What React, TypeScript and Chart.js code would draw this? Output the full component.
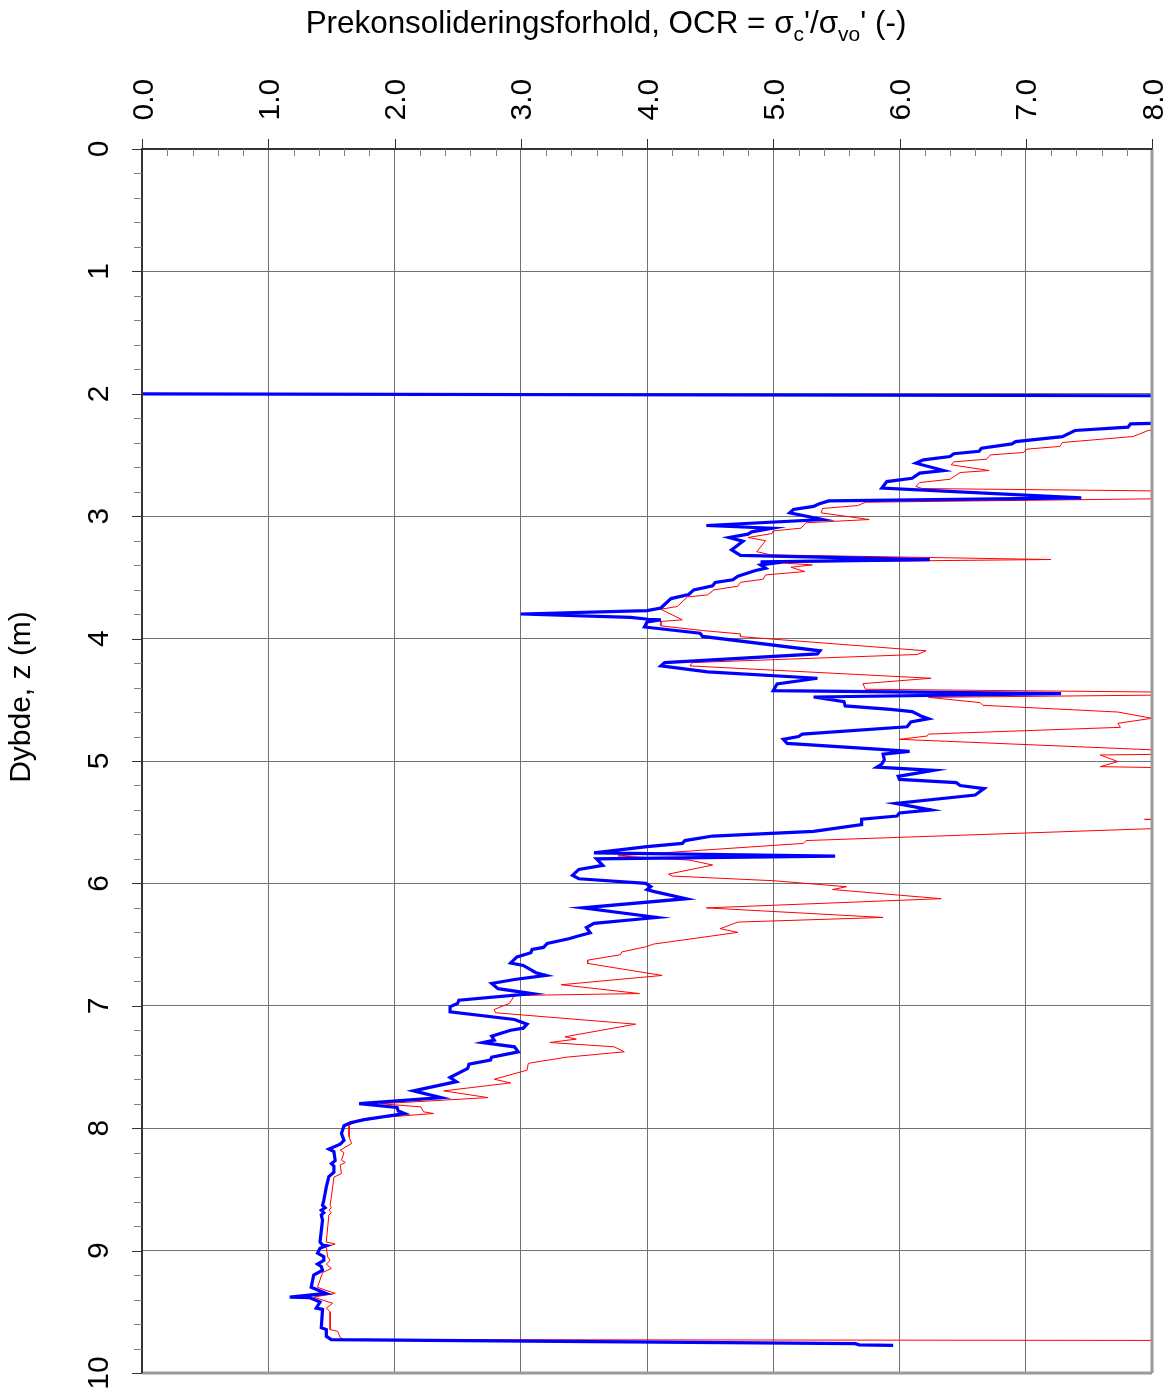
import { useEffect, useRef } from "react";
import { Chart, registerables } from "chart.js";

Chart.register(...registerables);

// Axis tick labels
const xTickLabels = ["0.0", "1.0", "2.0", "3.0", "4.0", "5.0", "6.0", "7.0", "8.0"];
const yTickLabels = ["0", "1", "2", "3", "4", "5", "6", "7", "8", "9", "10"];

const titleMain = "Prekonsolideringsforhold, OCR = ";
const yTitle = "Dybde, z (m)";

// [OCR (-), depth z (m)] — blue (thick) profile
const blueProfile: [number, number][] = [
  [0, 2.0], [20, 2.04], [20, 2.2], [8.0, 2.242], [7.83, 2.245], [7.81, 2.273], [7.39, 2.3], [7.29, 2.35],
  [6.92, 2.39], [6.89, 2.409], [6.65, 2.444], [6.63, 2.47], [6.43, 2.49], [6.4, 2.512], [6.19, 2.54],
  [6.13, 2.567], [6.35, 2.627], [6.16, 2.648], [6.1, 2.69], [5.9, 2.717], [5.86, 2.771], [7.44, 2.85],
  [5.44, 2.875], [5.36, 2.9], [5.32, 2.92], [5.16, 2.945], [5.13, 2.973], [5.39, 3.027], [4.47, 3.076],
  [4.99, 3.098], [4.83, 3.128], [4.8, 3.147], [4.65, 3.174], [4.76, 3.205], [4.67, 3.275], [4.74, 3.32],
  [6.24, 3.354], [4.9, 3.373], [4.99, 3.386], [4.9, 3.398], [4.94, 3.425], [4.86, 3.444], [4.72, 3.49],
  [4.68, 3.52], [4.54, 3.542], [4.52, 3.569], [4.37, 3.602], [4.33, 3.64], [4.19, 3.673], [4.11, 3.75],
  [4.0, 3.772], [3.0, 3.799], [3.87, 3.826], [4.01, 3.842], [4.11, 3.847], [4.0, 3.864], [3.98, 3.905],
  [4.42, 3.956], [4.44, 3.982], [5.37, 4.1], [5.35, 4.125], [4.14, 4.196], [4.11, 4.223], [4.48, 4.272],
  [5.35, 4.324], [5.03, 4.37], [5.0, 4.425], [7.28, 4.45], [5.32, 4.477], [5.56, 4.515], [5.57, 4.55],
  [5.93, 4.578], [6.1, 4.597], [6.17, 4.632], [6.23, 4.654], [6.09, 4.681], [6.06, 4.72], [5.23, 4.78],
  [5.2, 4.8], [5.08, 4.823], [5.11, 4.856], [5.85, 4.905], [6.08, 4.922], [5.87, 4.945], [5.88, 4.99],
  [5.86, 5.025], [5.82, 5.05], [6.27, 5.076], [5.99, 5.125], [6.0, 5.15], [6.45, 5.177], [6.48, 5.2],
  [6.67, 5.225], [6.6, 5.278], [5.97, 5.346], [6.25, 5.4], [6.0, 5.425], [5.98, 5.45], [5.7, 5.475],
  [5.7, 5.52], [5.32, 5.575], [4.52, 5.613], [4.3, 5.65], [4.28, 5.673], [4.0, 5.7], [3.58, 5.75],
  [5.49, 5.777], [3.6, 5.8], [3.65, 5.853], [3.46, 5.886], [3.41, 5.935], [3.46, 5.962], [3.99, 6.0],
  [4.03, 6.027], [4.0, 6.05], [4.05, 6.065], [4.31, 6.125], [3.49, 6.2], [4.08, 6.278], [3.97, 6.289],
  [3.58, 6.327], [3.52, 6.36], [3.55, 6.403], [3.47, 6.425], [3.38, 6.452], [3.21, 6.49], [3.18, 6.523],
  [3.09, 6.54], [3.08, 6.567], [2.97, 6.6], [2.92, 6.65], [3.02, 6.67], [3.12, 6.73], [3.2, 6.752],
  [2.95, 6.785], [2.77, 6.817], [2.82, 6.86], [3.09, 6.9], [2.51, 6.954], [2.5, 6.98], [2.44, 7.008],
  [2.44, 7.05], [2.95, 7.112], [3.05, 7.15], [3.02, 7.183], [2.92, 7.2], [2.77, 7.248], [2.79, 7.28],
  [2.7, 7.3], [2.95, 7.335], [2.98, 7.376], [2.77, 7.42], [2.76, 7.444], [2.59, 7.477], [2.58, 7.512],
  [2.44, 7.586], [2.49, 7.62], [2.15, 7.695], [2.37, 7.75], [1.72, 7.8], [2.02, 7.83], [2.03, 7.86],
  [2.08, 7.88], [1.76, 7.93], [1.65, 7.956], [1.6, 7.98], [1.58, 8.044], [1.6, 8.1], [1.57, 8.13],
  [1.48, 8.17], [1.52, 8.19], [1.53, 8.265], [1.5, 8.29], [1.52, 8.31], [1.52, 8.36], [1.48, 8.395],
  [1.46, 8.48], [1.44, 8.59], [1.43, 8.63], [1.45, 8.65], [1.42, 8.67], [1.44, 8.69], [1.42, 8.71],
  [1.43, 8.75], [1.41, 8.93], [1.43, 8.955], [1.46, 8.96], [1.41, 8.98], [1.39, 9.02], [1.44, 9.05],
  [1.44, 9.08], [1.39, 9.11], [1.42, 9.13], [1.43, 9.16], [1.36, 9.2], [1.34, 9.3], [1.46, 9.35],
  [1.17, 9.38], [1.33, 9.385], [1.41, 9.42], [1.38, 9.47], [1.43, 9.48], [1.42, 9.63], [1.46, 9.645],
  [1.46, 9.7], [1.5, 9.727], [5.65, 9.76], [5.68, 9.77], [5.95, 9.775],
];

// [OCR (-), depth z (m)] — red (thin) profile
const redProfile: [number, number][] = [
  [0, 2.0], [20, 2.04], [20, 2.25], [8.0, 2.297], [7.97, 2.3], [7.85, 2.349], [7.29, 2.398], [7.27, 2.43],
  [7.01, 2.452], [6.98, 2.48], [6.72, 2.499], [6.69, 2.534], [6.43, 2.556], [6.41, 2.58], [6.71, 2.627],
  [6.48, 2.643], [6.4, 2.698], [6.16, 2.725], [6.13, 2.757], [6.18, 2.774], [8.0, 2.793], [20, 2.8],
  [20, 2.85], [8.0, 2.858], [5.73, 2.886], [5.67, 2.913], [5.39, 2.937], [5.38, 2.973], [5.76, 3.027],
  [5.26, 3.054], [5.22, 3.098], [5.0, 3.12], [4.99, 3.142], [4.8, 3.174], [4.94, 3.2], [4.87, 3.29],
  [4.98, 3.316], [7.2, 3.354], [4.97, 3.376], [5.31, 3.398], [5.14, 3.417], [5.25, 3.452], [4.94, 3.48],
  [4.92, 3.515], [4.74, 3.54], [4.72, 3.572], [4.53, 3.602], [4.48, 3.643], [4.32, 3.66], [4.24, 3.738],
  [4.11, 3.76], [4.28, 3.847], [4.11, 3.86], [4.11, 3.896], [4.45, 3.935], [4.74, 3.962], [4.74, 3.984],
  [6.21, 4.1], [6.14, 4.13], [4.36, 4.196], [4.34, 4.223], [6.25, 4.324], [5.71, 4.368], [5.73, 4.414],
  [8.5, 4.441], [8.5, 4.457], [6.23, 4.48], [6.64, 4.523], [6.66, 4.545], [7.73, 4.6], [8.0, 4.651],
  [7.73, 4.692], [7.75, 4.725], [6.23, 4.78], [6.22, 4.796], [6.0, 4.823], [8.5, 4.93], [8.5, 4.94],
  [7.59, 4.951], [7.73, 5.005], [7.59, 5.046], [8.5, 5.062], [12, 5.3], [8.5, 5.475], [7.94, 5.477],
  [8.5, 5.48], [12, 5.5], [8.5, 5.535], [5.26, 5.65], [5.24, 5.673], [3.77, 5.775], [4.34, 5.81],
  [4.52, 5.85], [4.17, 5.924], [4.2, 5.94], [5.0, 5.978], [5.58, 6.027], [5.47, 6.05], [6.33, 6.125],
  [4.47, 6.2], [5.87, 6.278], [4.72, 6.316], [4.58, 6.37], [4.72, 6.4], [4.05, 6.496], [3.99, 6.518],
  [3.8, 6.56], [3.79, 6.583], [3.53, 6.627], [3.53, 6.654], [4.12, 6.752], [3.32, 6.828], [3.94, 6.9],
  [2.95, 6.916], [2.91, 6.98], [2.79, 7.03], [2.8, 7.057], [3.91, 7.15], [3.35, 7.253], [3.44, 7.272],
  [3.23, 7.3], [3.74, 7.335], [3.82, 7.376], [3.36, 7.42], [3.06, 7.47], [3.05, 7.526], [2.79, 7.6],
  [2.92, 7.63], [2.39, 7.695], [2.74, 7.75], [1.89, 7.8], [2.21, 7.826], [2.23, 7.866], [2.31, 7.88],
  [1.89, 7.913], [1.7, 7.948], [1.64, 7.975], [1.64, 8.07], [1.66, 8.125], [1.57, 8.18], [1.6, 8.2],
  [1.58, 8.26], [1.61, 8.28], [1.57, 8.3], [1.58, 8.37], [1.52, 8.4], [1.5, 8.56], [1.49, 8.63],
  [1.5, 8.65], [1.48, 8.67], [1.5, 8.69], [1.48, 8.71], [1.46, 8.93], [1.53, 8.946], [1.46, 8.97],
  [1.47, 9.05], [1.49, 9.08], [1.46, 9.11], [1.5, 9.146], [1.43, 9.18], [1.39, 9.3], [1.53, 9.35],
  [1.36, 9.38], [1.51, 9.43], [1.46, 9.47], [1.49, 9.5], [1.49, 9.645], [1.55, 9.66], [1.57, 9.71],
  [1.6, 9.727], [9.0, 9.735],
];

const FONT = '"Liberation Sans", Arial, Helvetica, sans-serif';

export default function App() {
  const ref = useRef<HTMLCanvasElement | null>(null);

  useEffect(() => {
    if (!ref.current) return;

    const axesPlugin = {
      id: "customAxes",
      afterDraw(chart: any) {
        const ctx: CanvasRenderingContext2D = chart.ctx;
        const xs = chart.scales.x;
        const ys = chart.scales.y;
        const a = chart.chartArea;
        const line = (x1: number, y1: number, x2: number, y2: number) => {
          ctx.beginPath();
          ctx.moveTo(x1, y1);
          ctx.lineTo(x2, y2);
          ctx.stroke();
        };
        ctx.save();

        // frame
        ctx.strokeStyle = "#9a9a9a";
        ctx.lineWidth = 3;
        line(a.right, a.top, a.right, a.bottom);
        line(a.left, a.bottom, a.right, a.bottom);
        ctx.strokeStyle = "#333333";
        ctx.lineWidth = 2;
        line(a.left - 1, a.top, a.right, a.top);
        line(a.left, a.top, a.left, a.bottom);

        // top axis ticks
        for (let i = 0; i <= 40; i++) {
          const px = Math.round(xs.getPixelForValue(i * 0.2)) + 0.5;
          if (i % 5 === 0) {
            ctx.strokeStyle = "#333333";
            ctx.lineWidth = 1;
            line(px, a.top - 10, px, a.top);
          } else {
            ctx.strokeStyle = "#808080";
            ctx.lineWidth = 1;
            line(px, a.top, px, a.top + 7);
          }
        }
        // left axis ticks
        for (let i = 0; i <= 50; i++) {
          const py = Math.round(ys.getPixelForValue(i * 0.2)) + 0.5;
          if (i % 5 === 0) {
            ctx.strokeStyle = "#333333";
            ctx.lineWidth = 1;
            line(a.left - 10, py, a.left, py);
          } else {
            ctx.strokeStyle = "#808080";
            ctx.lineWidth = 1;
            line(a.left - 8, py, a.left, py);
          }
        }

        ctx.fillStyle = "#000";
        ctx.font = `30px ${FONT}`;
        ctx.textBaseline = "alphabetic";

        // x tick labels (rotated)
        xTickLabels.forEach((lab) => {
          const px = xs.getPixelForValue(parseFloat(lab));
          ctx.save();
          ctx.translate(px + 10.7, 120.5);
          ctx.rotate(-Math.PI / 2);
          ctx.textAlign = "left";
          ctx.fillText(lab, 0, 0);
          ctx.restore();
        });

        // y tick labels (rotated)
        yTickLabels.forEach((lab) => {
          const py = ys.getPixelForValue(parseFloat(lab));
          ctx.save();
          ctx.translate(108, py);
          ctx.rotate(-Math.PI / 2);
          ctx.textAlign = "center";
          ctx.fillText(lab, 0, 0);
          ctx.restore();
        });

        // y title
        ctx.save();
        ctx.translate(30, 697);
        ctx.rotate(-Math.PI / 2);
        ctx.textAlign = "center";
        ctx.fillText(yTitle, 0, 0);
        ctx.restore();

        // main title with subscripts
        const big = `31.4px ${FONT}`;
        const small = `21px ${FONT}`;
        const parts: [string, boolean][] = [
          [titleMain + "\u03c3", false],
          ["c", true],
          ["'/\u03c3", false],
          ["vo", true],
          ["' (-)", false],
        ];
        let total = 0;
        parts.forEach(([t, sub]) => {
          ctx.font = sub ? small : big;
          total += ctx.measureText(t).width;
        });
        let x = 606 - total / 2;
        ctx.textAlign = "left";
        parts.forEach(([t, sub]) => {
          ctx.font = sub ? small : big;
          ctx.fillText(t, x, sub ? 41 : 33);
          x += ctx.measureText(t).width;
        });

        ctx.restore();
      },
    };

    const chart = new Chart(ref.current, {
      type: "scatter",
      data: {
        datasets: [
          {
            label: "blue",
            data: blueProfile.map(([x, y]) => ({ x, y })),
            showLine: true,
            borderColor: "#0000ff",
            backgroundColor: "#0000ff",
            borderWidth: 3.2,
            pointRadius: 0,
            pointHoverRadius: 0,
            tension: 0,
          },
          {
            label: "red",
            data: redProfile.map(([x, y]) => ({ x, y })),
            showLine: true,
            borderColor: "#ff0000",
            backgroundColor: "#ff0000",
            borderWidth: 1,
            pointRadius: 0,
            pointHoverRadius: 0,
            tension: 0,
          },
        ],
      },
      options: {
        animation: false,
        responsive: false,
        devicePixelRatio: 1,
        events: [],
        layout: { autoPadding: false, padding: { left: 142, top: 149, right: 24, bottom: 19 } },
        plugins: { legend: { display: false }, tooltip: { enabled: false }, title: { display: false } },
        scales: {
          x: {
            type: "linear",
            position: "top",
            min: 0,
            max: 8,
            ticks: { display: false, stepSize: 1 },
            grid: { color: "#707070", lineWidth: 1, drawTicks: false },
            border: { display: false },
            title: { display: false },
          },
          y: {
            type: "linear",
            reverse: true,
            min: 0,
            max: 10,
            ticks: { display: false, stepSize: 1 },
            grid: { color: "#707070", lineWidth: 1, drawTicks: false },
            border: { display: false },
            title: { display: false },
          },
        },
      },
      plugins: [axesPlugin],
    });

    return () => chart.destroy();
  }, []);

  return (
    <div style={{ position: "absolute", left: 0, top: 0, width: 1176, height: 1392, background: "#fff" }}>
      <canvas ref={ref} width={1176} height={1392} style={{ display: "block" }} />
    </div>
  );
}
